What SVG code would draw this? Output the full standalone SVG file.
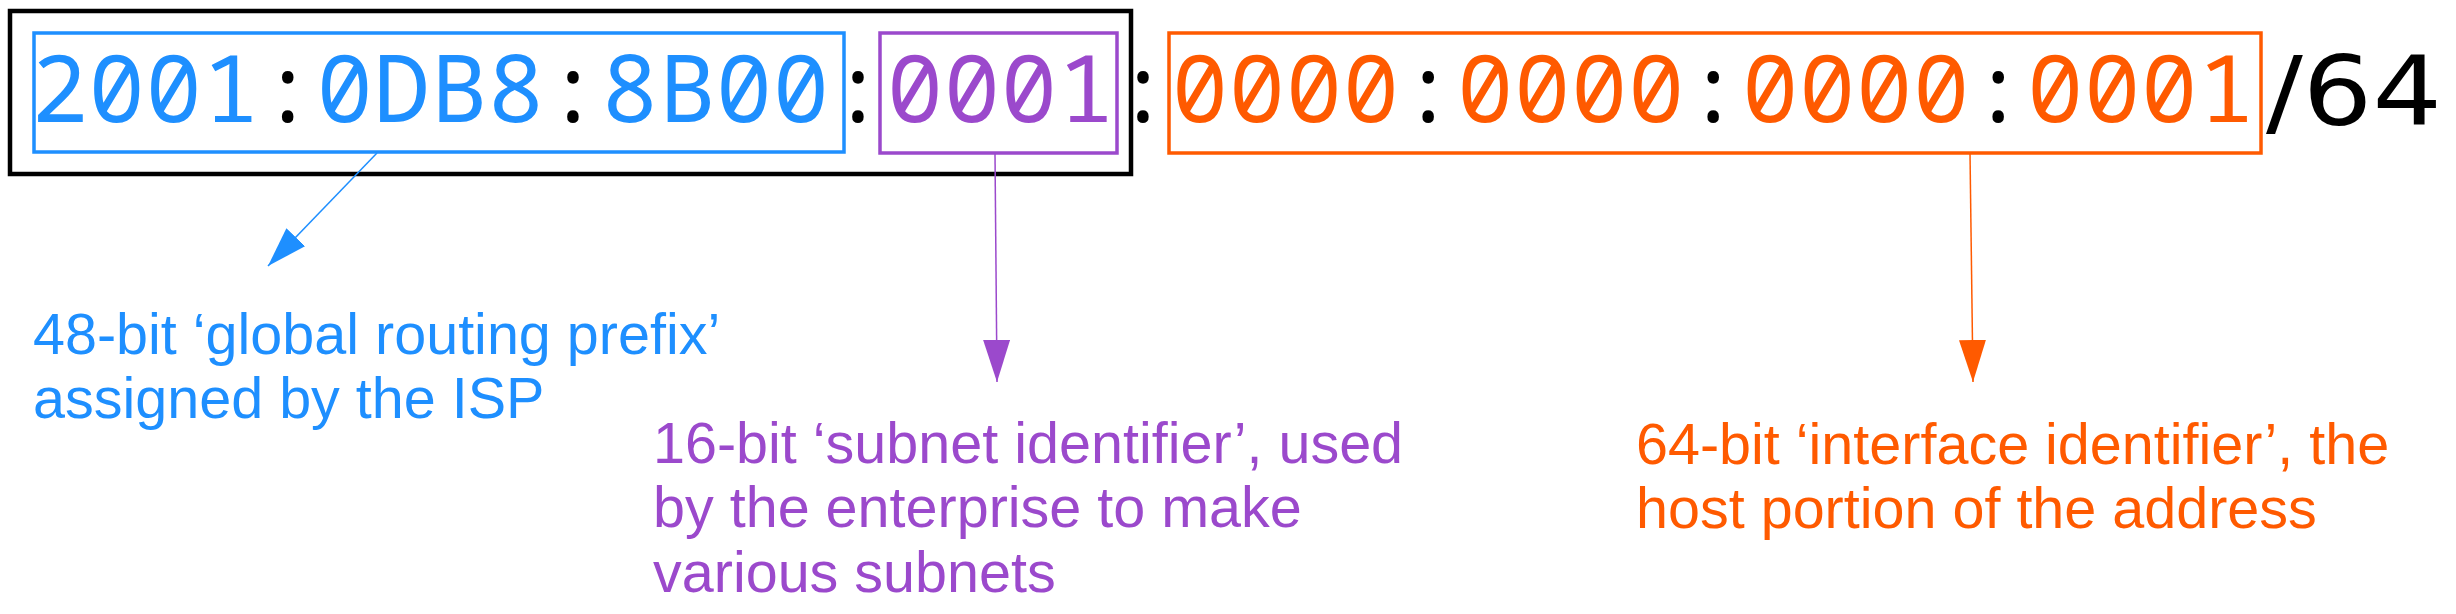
<svg xmlns="http://www.w3.org/2000/svg" width="2456" height="614" viewBox="0 0 2456 614">
  <style>
    .mono { font-family: "Noto Sans Mono", monospace; font-size: 94px; }
    .lbl { font-family: "Liberation Sans", Arial, sans-serif; font-size: 57.5px; }
    .blue { fill: #1E8FFF; }
    .purple { fill: #9B49CC; }
    .orange { fill: #FF5A00; }
    .box { fill: none; }
  </style>
  <defs>
    <marker id="ahBlue" viewBox="0 0 40 26" refX="40" refY="13" markerWidth="40" markerHeight="26" markerUnits="userSpaceOnUse" orient="auto">
      <path d="M0,0 L40,13 L0,26 z" fill="#1E8FFF"/>
    </marker>
    <marker id="ahPurple" viewBox="0 0 42 27" refX="42" refY="13.5" markerWidth="42" markerHeight="27" markerUnits="userSpaceOnUse" orient="auto">
      <path d="M0,0 L42,13.5 L0,27 z" fill="#9B49CC"/>
    </marker>
    <marker id="ahOrange" viewBox="0 0 42 27" refX="42" refY="13.5" markerWidth="42" markerHeight="27" markerUnits="userSpaceOnUse" orient="auto">
      <path d="M0,0 L42,13.5 L0,27 z" fill="#FF5A00"/>
    </marker>
  </defs>
  <rect width="2456" height="614" fill="#FFFFFF"/>

  <g id="network-portion">
    <rect x="10" y="11" width="1121" height="163" class="box" stroke="#000000" stroke-width="4.5"/>
  </g>

  <g id="address">
    <text class="mono" x="31.5" y="122" textLength="2223" lengthAdjust="spacing"><tspan class="blue">2001</tspan><tspan fill="#000">:</tspan><tspan class="blue">0DB8</tspan><tspan fill="#000">:</tspan><tspan class="blue">8B00</tspan><tspan fill="#000">:</tspan><tspan class="purple">0001</tspan><tspan fill="#000">:</tspan><tspan class="orange">0000</tspan><tspan fill="#000">:</tspan><tspan class="orange">0000</tspan><tspan fill="#000">:</tspan><tspan class="orange">0000</tspan><tspan fill="#000">:</tspan><tspan class="orange">0001</tspan></text>
    <text x="2266" y="125" font-family="DejaVu Sans, sans-serif" font-size="96" fill="#000" textLength="176" lengthAdjust="spacingAndGlyphs">/64</text>
  </g>

  <g id="global-routing-prefix">
    <rect x="34" y="33" width="810" height="119" class="box" stroke="#1E8FFF" stroke-width="3.5"/>
    <text class="lbl blue" x="33" y="354">48-bit ‘global routing prefix’</text>
    <text class="lbl blue" x="33" y="418">assigned by the ISP</text>
  </g>

  <g id="subnet-identifier">
    <rect x="880" y="33" width="237" height="120" class="box" stroke="#9B49CC" stroke-width="3.5"/>
    <text class="lbl purple" x="653" y="463">16-bit ‘subnet identifier’, used</text>
    <text class="lbl purple" x="653" y="527">by the enterprise to make</text>
    <text class="lbl purple" x="653" y="592">various subnets</text>
  </g>

  <g id="interface-identifier">
    <rect x="1169" y="33" width="1092" height="120" class="box" stroke="#FF5A00" stroke-width="3.5"/>
    <text class="lbl orange" x="1636" y="464">64-bit ‘interface identifier’, the</text>
    <text class="lbl orange" x="1636" y="528">host portion of the address</text>
  </g>

  <g id="connectors" fill="none" stroke-width="1.5">
    <line x1="377" y1="153" x2="268" y2="266" stroke="#1E8FFF" marker-end="url(#ahBlue)"/>
    <line x1="995" y1="154" x2="997" y2="382" stroke="#9B49CC" marker-end="url(#ahPurple)"/>
    <line x1="1970" y1="153" x2="1973" y2="382" stroke="#FF5A00" marker-end="url(#ahOrange)"/>
  </g>
</svg>
